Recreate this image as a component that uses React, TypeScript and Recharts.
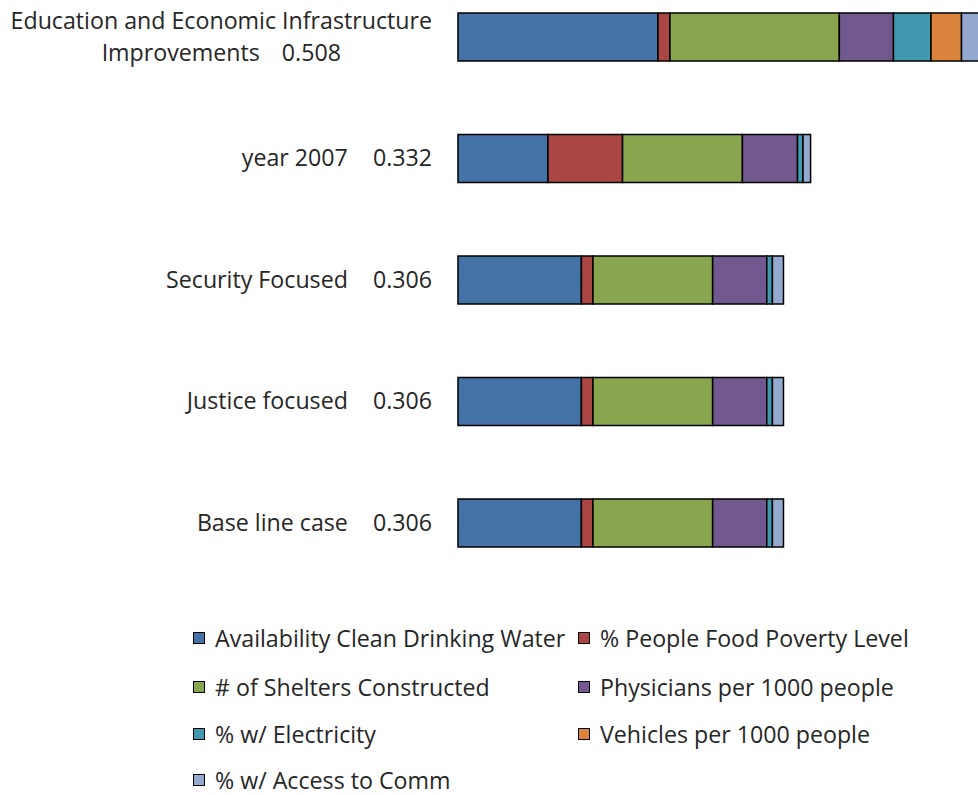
import React from 'react';
import { BarChart, Bar, XAxis, YAxis, Legend } from 'recharts';

const categories = [
  'Education and Economic Infrastructure\nImprovements',
  'year 2007',
  'Security Focused',
  'Justice focused',
  'Base line case',
];
const totalLabels = ['0.508', '0.332', '0.306', '0.306', '0.306'];

const seriesNames = [
  'Availability Clean Drinking Water',
  '% People Food Poverty Level',
  '# of Shelters Constructed',
  'Physicians per 1000 people',
  '% w/ Electricity',
  'Vehicles per 1000 people',
  '% w/ Access to Comm',
];
const waterValues = [0.188, 0.0846, 0.116, 0.116, 0.116];
const foodPovertyValues = [0.0113, 0.0701, 0.0109, 0.0109, 0.0109];
const sheltersValues = [0.1592, 0.1127, 0.1125, 0.1125, 0.1125];
const physiciansValues = [0.0509, 0.0518, 0.0509, 0.0509, 0.0509];
const electricityValues = [0.0353, 0.0052, 0.0053, 0.0053, 0.0053];
const vehiclesValues = [0.0287, 0, 0, 0, 0];
const commValues = [0.0346, 0.0071, 0.0104, 0.0104, 0.0104];

const seriesValues = [
  waterValues,
  foodPovertyValues,
  sheltersValues,
  physiciansValues,
  electricityValues,
  vehiclesValues,
  commValues,
];
const seriesKeys = ['s0', 's1', 's2', 's3', 's4', 's5', 's6'];
const colors = ['#4572A7', '#AA4643', '#89A54E', '#71588F', '#4198AF', '#DB843D', '#93A9CF'];

const data = categories.map((name, i) => {
  const row: Record<string, any> = { name };
  seriesKeys.forEach((k, j) => {
    row[k] = seriesValues[j][i];
  });
  return row;
});

const FONT_FAMILY = "'Open Sans', Lato, sans-serif";
const FONT_SIZE = 23.2;
const TEXT_COLOR = '#262626';

let ctx: CanvasRenderingContext2D | null = null;
const measure = (t: string) => {
  if (!ctx) {
    ctx = document.createElement('canvas').getContext('2d');
  }
  if (!ctx) return t.length * FONT_SIZE * 0.5;
  ctx.font = `${FONT_SIZE}px ${FONT_FAMILY}`;
  return ctx.measureText(t).width;
};

const CategoryTick = (props: any) => {
  const { x, y, payload } = props;
  const idx = categories.indexOf(payload.value);
  const value = totalLabels[idx] ?? '';
  const lines = String(payload.value).split('\n');
  const common = {
    fontFamily: FONT_FAMILY,
    fontSize: FONT_SIZE,
    fill: TEXT_COLOR,
  };
  const valW = measure(value);
  const base = 8.2;
  if (lines.length === 1) {
    return (
      <g>
        <text {...common} x={x - valW - 25} y={y + base} textAnchor="end">
          {lines[0]}
        </text>
        <text {...common} x={x} y={y + base} textAnchor="end">
          {value}
        </text>
      </g>
    );
  }
  const gap = 22;
  const widths = lines.map((l, i) =>
    i === lines.length - 1 ? measure(l) + gap + valW : measure(l)
  );
  const maxW = Math.max(...widths);
  const c = x - maxW / 2;
  const lh = 32;
  const n = lines.length;
  return (
    <g>
      {lines.map((l, i) => {
        const by = y + base + (i - (n - 1) / 2) * lh;
        if (i === n - 1) {
          const w = widths[i];
          return (
            <g key={i}>
              <text {...common} x={c - w / 2} y={by} textAnchor="start">
                {l}
              </text>
              <text {...common} x={c + w / 2} y={by} textAnchor="end">
                {value}
              </text>
            </g>
          );
        }
        return (
          <text key={i} {...common} x={c} y={by} textAnchor="middle">
            {l}
          </text>
        );
      })}
    </g>
  );
};

const LEGEND_H = 202;
const legendRowY = [54.5, 103.5, 150.5, 196];
const legendColX = [185, 570];

const renderLegend = () => (
  <div style={{ position: 'relative', width: 970, height: LEGEND_H }}>
    {seriesNames.map((name, i) => {
      const col = i % 2;
      const row = Math.floor(i / 2);
      return (
        <div
          key={name}
          style={{
            position: 'absolute',
            left: legendColX[col],
            top: legendRowY[row] - 12,
            height: 24,
            lineHeight: '24px',
            display: 'flex',
            alignItems: 'center',
            whiteSpace: 'nowrap',
            fontFamily: FONT_FAMILY,
            fontSize: FONT_SIZE,
            color: TEXT_COLOR,
          }}
        >
          <span
            style={{
              display: 'inline-block',
              width: 10,
              height: 10,
              background: colors[i],
              border: '1.5px solid #000',
              marginRight: 10,
              flexShrink: 0,
            }}
          />
          <span style={{ lineHeight: '24px' }}>{name}</span>
        </div>
      );
    })}
  </div>
);

export default function App() {
  return (
    <div
      style={{
        position: 'absolute',
        left: 0,
        top: 0,
        width: 978,
        height: 795,
        overflow: 'hidden',
        background: '#fff',
      }}
    >
      <div style={{ position: 'absolute', left: 8, top: -34 }}>
        <BarChart
          layout="vertical"
          width={1035}
          height={829}
          data={data}
          margin={{ top: 10, right: 0, bottom: 9.5, left: 0 }}
          barSize={48}
        >
          <XAxis type="number" hide domain={[0, 0.55]} />
          <YAxis
            type="category"
            dataKey="name"
            width={450}
            axisLine={false}
            tickLine={false}
            tickSize={0}
            tickMargin={26}
            interval={0}
            tick={<CategoryTick />}
          />
          {seriesKeys.map((k, j) => (
            <Bar
              key={k}
              dataKey={k}
              name={seriesNames[j]}
              stackId="a"
              fill={colors[j]}
              stroke="#000"
              strokeWidth={1.5}
              isAnimationActive={false}
            />
          ))}
          <Legend
            verticalAlign="bottom"
            wrapperStyle={{ left: 0 }}
            content={renderLegend}
          />
        </BarChart>
      </div>
    </div>
  );
}
